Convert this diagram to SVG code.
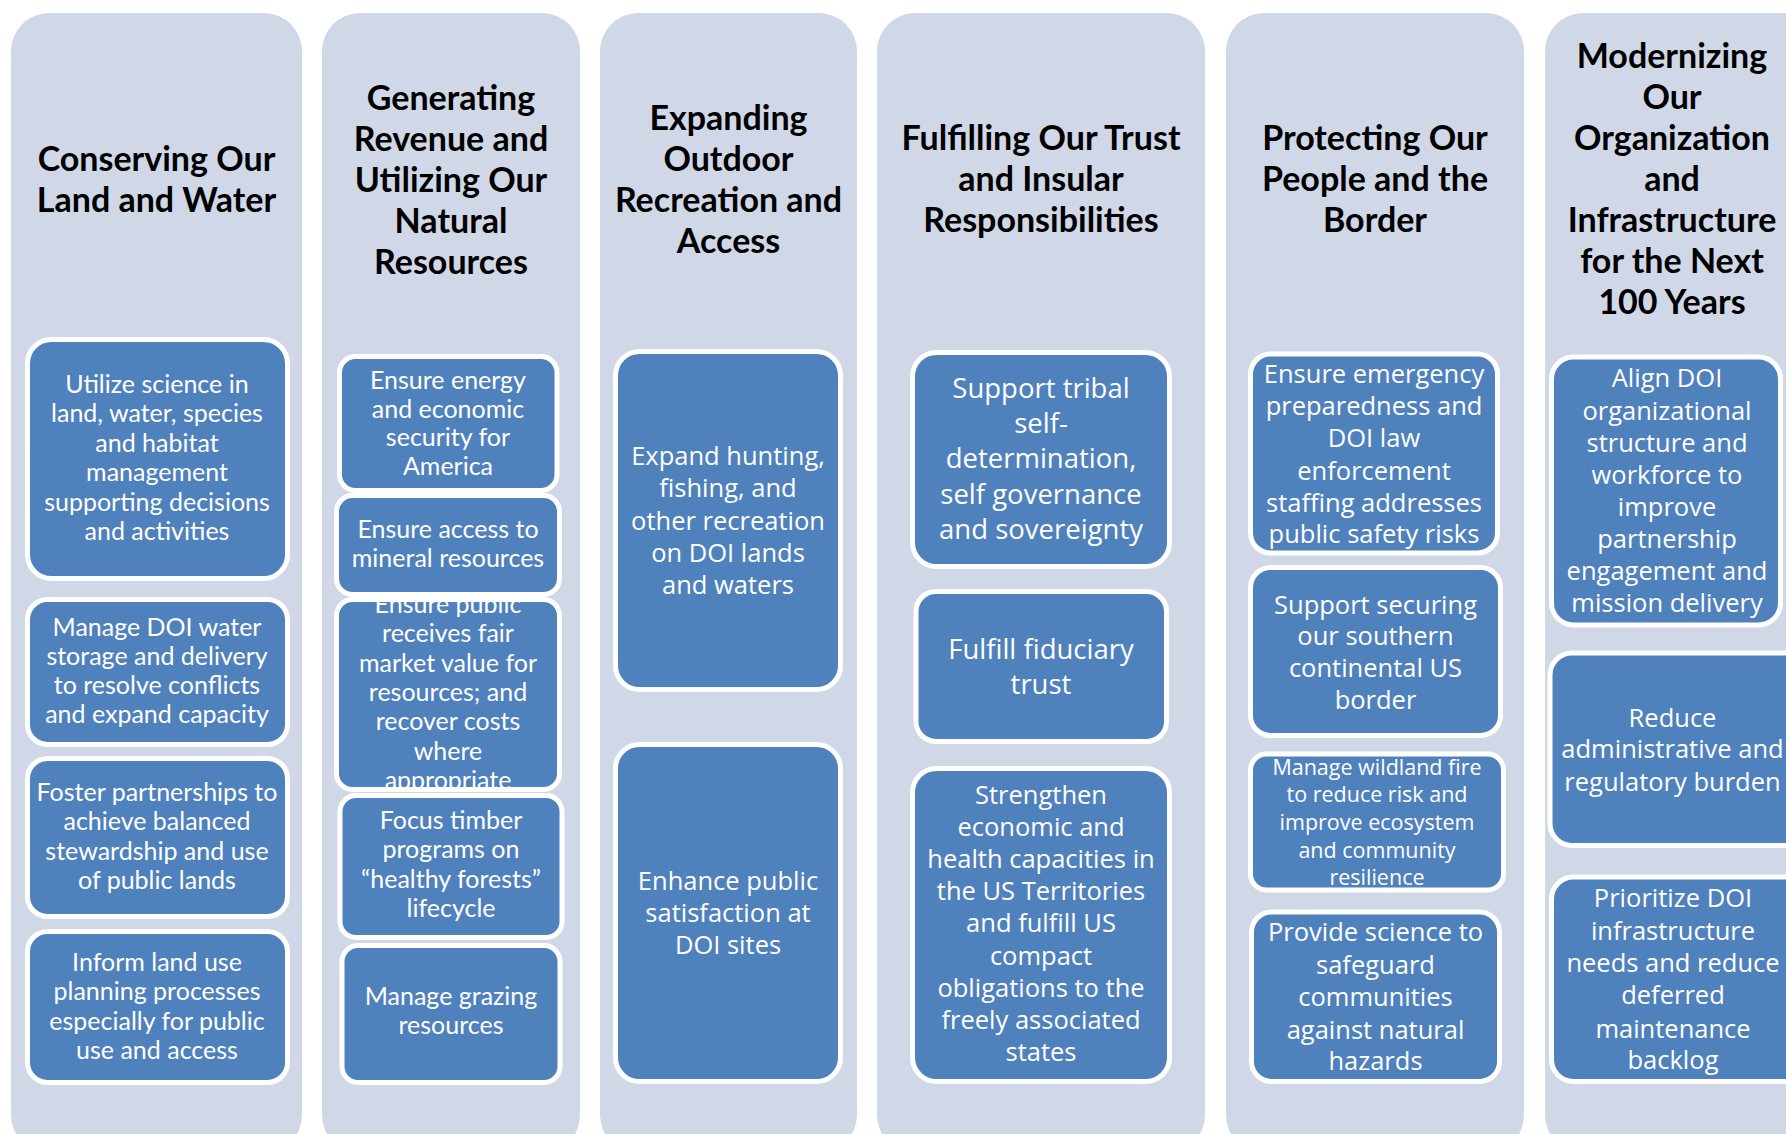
<svg xmlns="http://www.w3.org/2000/svg" width="1786" height="1134" viewBox="0 0 1786 1134">
<style>
.col{fill:#D0D8E8}
.box{fill:#4F81BD;stroke:#FFFFFF;stroke-width:5}
.title{font-family:Lato,"Liberation Sans",sans-serif;font-weight:700;font-size:34px;fill:#000;text-anchor:middle}
.a{font-family:Lato,"Liberation Sans",sans-serif;font-size:25px;fill:#fff;text-anchor:middle}
.b{font-family:"Open Sans","DejaVu Sans",sans-serif;font-size:25.5px;fill:#fff;text-anchor:middle}
.c{font-family:"Open Sans","DejaVu Sans",sans-serif;font-size:27.5px;fill:#fff;text-anchor:middle}
.d{font-family:"Open Sans","DejaVu Sans",sans-serif;font-size:21.5px;fill:#fff;text-anchor:middle}
</style>
<defs>
<clipPath id="clipB3"><rect x="339" y="602" width="218" height="185" rx="14"/></clipPath>
</defs>
<rect width="1786" height="1134" fill="#fff"/>

<g id="col1">
<rect class="col" x="11" y="13" width="291" height="1140" rx="38"/>
<text class="title" x="156.5"><tspan x="156.5" y="171">Conserving Our</tspan><tspan x="156.5" y="212">Land and Water</tspan></text>
</g>
<g id="c1b1"><rect class="box" x="27.5" y="339.5" width="260" height="239" rx="24"/>
<text class="a"><tspan x="157" y="393">Utilize science in</tspan><tspan x="157" y="422.4">land, water, species</tspan><tspan x="157" y="451.8">and habitat</tspan><tspan x="157" y="481.2">management</tspan><tspan x="157" y="510.6">supporting decisions</tspan><tspan x="157" y="540">and activities</tspan></text></g>
<g id="c1b2"><rect class="box" x="27.5" y="599.5" width="260" height="145" rx="20"/>
<text class="a"><tspan x="157" y="636">Manage DOI water</tspan><tspan x="157" y="665">storage and delivery</tspan><tspan x="157" y="694">to resolve conflicts</tspan><tspan x="157" y="723">and expand capacity</tspan></text></g>
<g id="c1b3"><rect class="box" x="27.5" y="758.5" width="260" height="158" rx="20"/>
<text class="a"><tspan x="157" y="801">Foster partnerships to</tspan><tspan x="157" y="830">achieve balanced</tspan><tspan x="157" y="860">stewardship and use</tspan><tspan x="157" y="889">of public lands</tspan></text></g>
<g id="c1b4"><rect class="box" x="27.5" y="931.5" width="260" height="151" rx="20"/>
<text class="a"><tspan x="157" y="970.5">Inform land use</tspan><tspan x="157" y="1000">planning processes</tspan><tspan x="157" y="1030">especially for public</tspan><tspan x="157" y="1059">use and access</tspan></text></g>

<g id="col2">
<rect class="col" x="322" y="13" width="258" height="1140" rx="38"/>
<text class="title"><tspan x="451" y="110">Generating</tspan><tspan x="451" y="151">Revenue and</tspan><tspan x="451" y="192">Utilizing Our</tspan><tspan x="451" y="233">Natural</tspan><tspan x="451" y="274">Resources</tspan></text>
</g>
<g id="c2b1"><rect class="box" x="339.5" y="356.5" width="217.5" height="134" rx="16"/>
<text class="a"><tspan x="448" y="389">Ensure energy</tspan><tspan x="448" y="417.7">and economic</tspan><tspan x="448" y="446.3">security for</tspan><tspan x="448" y="475">America</tspan></text></g>
<g id="c2b2"><rect class="box" x="336.5" y="495.5" width="223" height="99" rx="16"/>
<text class="a"><tspan x="448" y="538">Ensure access to</tspan><tspan x="448" y="567">mineral resources</tspan></text></g>
<g id="c2b3"><rect class="box" x="336.5" y="599.5" width="223" height="190" rx="16"/>
<text class="a" clip-path="url(#clipB3)"><tspan x="448" y="613">Ensure public</tspan><tspan x="448" y="642.3">receives fair</tspan><tspan x="448" y="671.6">market value for</tspan><tspan x="448" y="700.9">resources; and</tspan><tspan x="448" y="730.2">recover costs</tspan><tspan x="448" y="759.5">where</tspan><tspan x="448" y="788.8">appropriate</tspan></text></g>
<g id="c2b4"><rect class="box" x="340" y="795.5" width="222" height="142" rx="16"/>
<text class="a"><tspan x="451" y="829">Focus timber</tspan><tspan x="451" y="858.3">programs on</tspan><tspan x="451" y="887.6">“healthy forests”</tspan><tspan x="451" y="917">lifecycle</tspan></text></g>
<g id="c2b5"><rect class="box" x="342" y="945.5" width="218" height="137" rx="16"/>
<text class="a"><tspan x="451" y="1005">Manage grazing</tspan><tspan x="451" y="1034">resources</tspan></text></g>

<g id="col3">
<rect class="col" x="600" y="13" width="257" height="1140" rx="38"/>
<text class="title"><tspan x="728.5" y="129.5">Expanding</tspan><tspan x="728.5" y="170.5">Outdoor</tspan><tspan x="728.5" y="211.5">Recreation and</tspan><tspan x="728.5" y="252.5">Access</tspan></text>
</g>
<g id="c3b1"><rect class="box" x="615.5" y="351.5" width="225" height="338" rx="24"/>
<text class="b"><tspan x="728" y="465">Expand hunting,</tspan><tspan x="728" y="497">fishing, and</tspan><tspan x="728" y="529.5">other recreation</tspan><tspan x="728" y="562">on DOI lands</tspan><tspan x="728" y="594">and waters</tspan></text></g>
<g id="c3b2"><rect class="box" x="615.5" y="744.5" width="225" height="337" rx="24"/>
<text class="b"><tspan x="728" y="890">Enhance public</tspan><tspan x="728" y="922">satisfaction at</tspan><tspan x="728" y="954">DOI sites</tspan></text></g>

<g id="col4">
<rect class="col" x="877" y="13" width="328" height="1140" rx="38"/>
<text class="title"><tspan x="1041" y="150">Fulfilling Our Trust</tspan><tspan x="1041" y="191">and Insular</tspan><tspan x="1041" y="232">Responsibilities</tspan></text>
</g>
<g id="c4b1"><rect class="box" x="912.5" y="352.5" width="257" height="214" rx="24"/>
<text class="c"><tspan x="1041" y="398">Support tribal</tspan><tspan x="1041" y="433">self-</tspan><tspan x="1041" y="468">determination,</tspan><tspan x="1041" y="503.5">self governance</tspan><tspan x="1041" y="539">and sovereignty</tspan></text></g>
<g id="c4b2"><rect class="box" x="916" y="591.5" width="250.5" height="150" rx="20"/>
<text class="c"><tspan x="1041" y="659">Fulfill fiduciary</tspan><tspan x="1041" y="694">trust</tspan></text></g>
<g id="c4b3"><rect class="box" x="912.5" y="768.5" width="257" height="313" rx="24"/>
<text class="b"><tspan x="1041" y="803.5">Strengthen</tspan><tspan x="1041" y="836">economic and</tspan><tspan x="1041" y="868">health capacities in</tspan><tspan x="1041" y="900">the US Territories</tspan><tspan x="1041" y="932">and fulfill US</tspan><tspan x="1041" y="965">compact</tspan><tspan x="1041" y="997">obligations to the</tspan><tspan x="1041" y="1029">freely associated</tspan><tspan x="1041" y="1061">states</tspan></text></g>

<g id="col5">
<rect class="col" x="1226" y="13" width="298" height="1140" rx="38"/>
<text class="title"><tspan x="1375" y="150">Protecting Our</tspan><tspan x="1375" y="191">People and the</tspan><tspan x="1375" y="232">Border</tspan></text>
</g>
<g id="c5b1"><rect class="box" x="1250.5" y="354" width="247" height="199" rx="20"/>
<text class="b"><tspan x="1374" y="383">Ensure emergency</tspan><tspan x="1374" y="415">preparedness and</tspan><tspan x="1374" y="447">DOI law</tspan><tspan x="1374" y="480">enforcement</tspan><tspan x="1374" y="512">staffing addresses</tspan><tspan x="1374" y="543">public safety risks</tspan></text></g>
<g id="c5b2"><rect class="box" x="1250.5" y="567.5" width="250" height="168" rx="20"/>
<text class="b"><tspan x="1375.5" y="613.5">Support securing</tspan><tspan x="1375.5" y="645">our southern</tspan><tspan x="1375.5" y="677">continental US</tspan><tspan x="1375.5" y="708.5">border</tspan></text></g>
<g id="c5b3"><rect class="box" x="1250.5" y="754" width="253" height="136" rx="16"/>
<text class="d"><tspan x="1377" y="775">Manage wildland fire</tspan><tspan x="1377" y="802">to reduce risk and</tspan><tspan x="1377" y="830">improve ecosystem</tspan><tspan x="1377" y="858">and community</tspan><tspan x="1377" y="885">resilience</tspan></text></g>
<g id="c5b4"><rect class="box" x="1251.5" y="912" width="248" height="169.5" rx="20"/>
<text class="b"><tspan x="1375.5" y="941">Provide science to</tspan><tspan x="1375.5" y="973.5">safeguard</tspan><tspan x="1375.5" y="1005.5">communities</tspan><tspan x="1375.5" y="1038.5">against natural</tspan><tspan x="1375.5" y="1070">hazards</tspan></text></g>

<g id="col6">
<rect class="col" x="1545" y="13" width="300" height="1140" rx="38"/>
<text class="title"><tspan x="1672" y="68">Modernizing</tspan><tspan x="1672" y="109">Our</tspan><tspan x="1672" y="150">Organization</tspan><tspan x="1672" y="191">and</tspan><tspan x="1672" y="232">Infrastructure</tspan><tspan x="1672" y="273">for the Next</tspan><tspan x="1672" y="314">100 Years</tspan></text>
</g>
<g id="c6b1"><rect class="box" x="1551.5" y="357" width="229" height="268" rx="22"/>
<text class="b"><tspan x="1667" y="387">Align DOI</tspan><tspan x="1667" y="419.5">organizational</tspan><tspan x="1667" y="452">structure and</tspan><tspan x="1667" y="484">workforce to</tspan><tspan x="1667" y="516">improve</tspan><tspan x="1667" y="548">partnership</tspan><tspan x="1667" y="580">engagement and</tspan><tspan x="1667" y="612">mission delivery</tspan></text></g>
<g id="c6b2"><rect class="box" x="1550" y="653" width="260" height="192.5" rx="22"/>
<text class="b"><tspan x="1672.5" y="726.5">Reduce</tspan><tspan x="1672.5" y="758">administrative and</tspan><tspan x="1672.5" y="790.5">regulatory burden</tspan></text></g>
<g id="c6b3"><rect class="box" x="1551.5" y="877" width="260" height="204.5" rx="22"/>
<text class="b"><tspan x="1673" y="907">Prioritize DOI</tspan><tspan x="1673" y="940">infrastructure</tspan><tspan x="1673" y="972">needs and reduce</tspan><tspan x="1673" y="1004">deferred</tspan><tspan x="1673" y="1037.5">maintenance</tspan><tspan x="1673" y="1068.5">backlog</tspan></text></g>

<g id="connectors"></g>
</svg>
